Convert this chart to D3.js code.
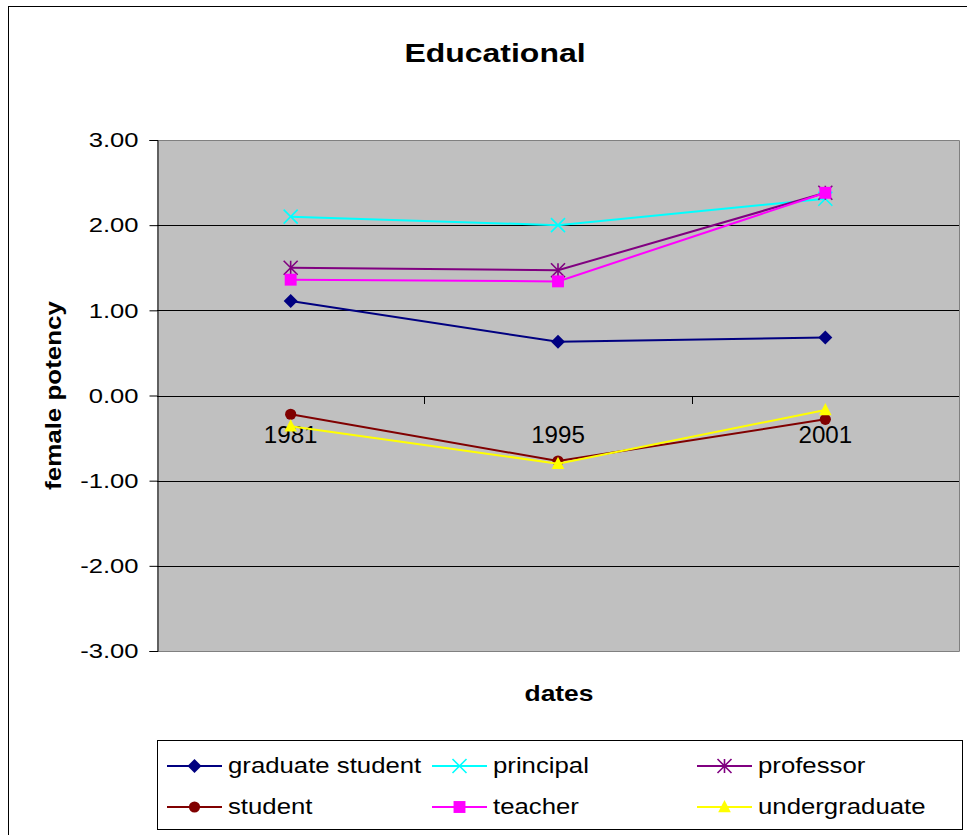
<!DOCTYPE html>
<html>
<head>
<meta charset="utf-8">
<script src="https://cdn.jsdelivr.net/npm/d3@7/dist/d3.min.js"></script>
<style>
  body { margin: 0; background: #fff; }
  svg { display: block; font-family: Arial, "Liberation Sans", sans-serif; }
</style>
</head>
<body>
<svg id="chart" width="967" height="835"></svg>
<script>
const categories = ["1981", "1995", "2001"];
const seriesNames = ["graduate student", "principal", "professor", "student", "teacher", "undergraduate"];
const graduateStudent = [1.11, 0.63, 0.68];
const principal = [2.10, 2.00, 2.31];
const professor = [1.50, 1.47, 2.38];
const student = [-0.22, -0.77, -0.28];
const teacher = [1.36, 1.34, 2.38];
const undergraduate = [-0.36, -0.80, -0.17];
const yTicks = [3, 2, 1, 0, -1, -2, -3];

const seriesValues = [graduateStudent, principal, professor, student, teacher, undergraduate];
const colors = ["#000080", "#00FFFF", "#800080", "#800000", "#FF00FF", "#FFFF00"];
const markers = ["diamond", "x", "star", "circle", "square", "triangle"];

const svg = d3.select("#chart");
const plot = { left: 157, top: 140, right: 959, bottom: 651 };

// text with a horizontal stretch, anchored at (x, y)
function label(parent, x, y, str, size, sx, anchor, weight, rotate) {
  const rot = rotate ? ` rotate(${rotate})` : "";
  return parent.append("text")
    .attr("transform", `translate(${x},${y})${rot} scale(${sx},1)`)
    .attr("text-anchor", anchor || "start")
    .attr("font-size", size)
    .attr("font-weight", weight || "normal")
    .attr("fill", "#000")
    .text(str);
}

// outer chart frame
svg.append("rect").attr("x", 8.5).attr("y", 6.5).attr("width", 970).attr("height", 840)
  .attr("fill", "#fff").attr("stroke", "#000").attr("stroke-width", 1);

const x = d3.scaleBand().domain(categories).range([plot.left, plot.right]);
const y = d3.scaleLinear().domain([-3, 3]).range([plot.bottom, plot.top]);

// plot background
svg.append("rect").attr("x", plot.left).attr("y", plot.top)
  .attr("width", plot.right - plot.left).attr("height", plot.bottom - plot.top)
  .attr("fill", "#C0C0C0");

// horizontal gridlines
svg.append("g").selectAll("line").data(yTicks.filter(t => t !== 3 && t !== -3)).join("line")
  .attr("x1", plot.left).attr("x2", plot.right)
  .attr("y1", d => Math.round(y(d)) + 0.5).attr("y2", d => Math.round(y(d)) + 0.5)
  .attr("stroke", "#000").attr("stroke-width", 1);

// plot border (top, right, bottom in gray)
svg.append("path")
  .attr("d", `M${plot.left},${plot.top + 0.5}H${plot.right + 0.5}V${plot.bottom + 0.5}H${plot.left}`)
  .attr("fill", "none").attr("stroke", "#808080").attr("stroke-width", 1);

// y axis
const fmt = d => d3.format(".2f")(d).replace("\u2212", "-");
const yAxis = d3.axisLeft(y).tickValues(yTicks).tickFormat(fmt).tickSize(8).tickPadding(11);
const gy = svg.append("g").attr("transform", `translate(${plot.left + 0.5},0)`).call(yAxis);
gy.select(".domain").attr("stroke", "#000");
gy.selectAll(".tick line").attr("stroke", "#000");
gy.selectAll(".tick text")
  .attr("x", 0)
  .attr("transform", "translate(-19,0) scale(1.22,1)")
  .attr("font-size", 21).attr("fill", "#000")
  .attr("font-family", "Arial, 'Liberation Sans', sans-serif");

// x axis along zero line
const xAxis = d3.axisBottom(x).tickSize(0).tickPadding(0);
const gx = svg.append("g").attr("transform", `translate(0,${Math.round(y(0)) + 0.5})`).call(xAxis);
gx.select(".domain").remove();
gx.selectAll(".tick text")
  .attr("y", 0).attr("dy", null)
  .attr("transform", "translate(0,46) scale(1.05,1)")
  .attr("font-size", 23).attr("fill", "#000")
  .attr("font-family", "Arial, 'Liberation Sans', sans-serif");
// category boundary ticks
const bounds = categories.slice(1).map(c => x(c));
svg.append("g").selectAll("line").data(bounds).join("line")
  .attr("x1", d => Math.round(d) + 0.5).attr("x2", d => Math.round(d) + 0.5)
  .attr("y1", Math.round(y(0))).attr("y2", Math.round(y(0)) + 8)
  .attr("stroke", "#000");

const cx = c => x(c) + x.bandwidth() / 2;

function drawMarker(g, type, color, size) {
  const s = size;
  switch (type) {
    case "diamond":
      g.append("path").attr("d", `M0,${-s}L${s},0L0,${s}L${-s},0Z`).attr("fill", color);
      break;
    case "square":
      g.append("rect").attr("x", -s * 0.85).attr("y", -s * 0.85).attr("width", s * 1.7).attr("height", s * 1.7).attr("fill", color);
      break;
    case "circle":
      g.append("circle").attr("r", s * 0.8).attr("fill", color);
      break;
    case "triangle":
      g.append("path").attr("d", `M0,${-s}L${s * 0.9},${s * 0.75}L${-s * 0.9},${s * 0.75}Z`).attr("fill", color);
      break;
    case "x":
      g.append("path").attr("d", `M${-s},${-s}L${s},${s}M${-s},${s}L${s},${-s}`)
        .attr("stroke", color).attr("stroke-width", 1.6).attr("fill", "none");
      break;
    case "star":
      g.append("path").attr("d", `M${-s},${-s}L${s},${s}M${-s},${s}L${s},${-s}M0,${-s}V${s}`)
        .attr("stroke", color).attr("stroke-width", 1.6).attr("fill", "none");
      break;
  }
}

const line = d3.line().x((d, i) => cx(categories[i])).y(d => y(d));

seriesValues.forEach((vals, si) => {
  const g = svg.append("g");
  g.append("path").datum(vals).attr("d", line)
    .attr("fill", "none").attr("stroke", colors[si]).attr("stroke-width", 2);
  vals.forEach((v, i) => {
    const m = g.append("g").attr("transform", `translate(${cx(categories[i])},${y(v)})`);
    drawMarker(m, markers[si], colors[si], 7);
  });
});

// title
label(svg, 495, 62, "Educational", 26, 1.23, "middle", "bold");

// axis titles
label(svg, 559, 701, "dates", 22, 1.2, "middle", "bold");
label(svg, 61, (plot.top + plot.bottom) / 2, "female potency", 22, 1.18, "middle", "bold", -90);

// legend
const legend = svg.append("g");
legend.append("rect").attr("x", 157.5).attr("y", 740.5).attr("width", 805).attr("height", 89)
  .attr("fill", "#fff").attr("stroke", "#000");
const colX = [167, 432, 697];
const rowY = [766, 807];
seriesNames.forEach((name, i) => {
  const lx = colX[i % 3], ly = rowY[Math.floor(i / 3)];
  const g = legend.append("g");
  g.append("line").attr("x1", lx).attr("x2", lx + 55).attr("y1", ly).attr("y2", ly)
    .attr("stroke", colors[i]).attr("stroke-width", 2);
  const m = g.append("g").attr("transform", `translate(${lx + 27.5},${ly})`);
  drawMarker(m, markers[i], colors[i], 7);
  label(g, lx + 61, ly + 7, name, 23, 1.12, "start");
});
</script>
</body>
</html>
